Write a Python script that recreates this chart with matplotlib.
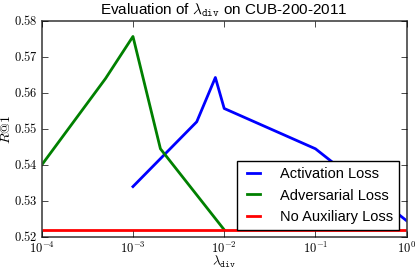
import math
import matplotlib
matplotlib.use('Agg')
import matplotlib.pyplot as plt
from matplotlib.ticker import FuncFormatter, FixedLocator

# data
act_x = [1e-3, 5e-3, 8e-3, 1e-2, 1e-1, 1e0]
act_y = [0.534, 0.552, 0.5643, 0.5557, 0.5445, 0.5245]
adv_x = [1e-4, 5e-4, 1e-3, 2e-3, 1e-2]
adv_y = [0.540, 0.564, 0.5757, 0.5445, 0.522]
base_x = [1e-4, 1e0]
base_y = [0.522, 0.522]
x_ticks = [1e-4, 1e-3, 1e-2, 1e-1, 1e0]
y_ticks = [0.52, 0.53, 0.54, 0.55, 0.56, 0.57, 0.58]

plt.style.use('classic')
plt.rcParams['mathtext.fontset'] = 'cm'
plt.rcParams['mathtext.default'] = 'rm'
plt.rcParams['font.family'] = ['Liberation Sans', 'DejaVu Sans']

fig = plt.figure(figsize=(4.15, 2.69), dpi=100)
ax = fig.add_axes([0.1005, 0.119, 0.8795, 0.803])

ax.plot(act_x, act_y, 'b-', lw=2, label='Activation Loss')
ax.plot(adv_x, adv_y, 'g-', lw=2, label='Adversarial Loss')
ax.plot(base_x, base_y, 'r-', lw=2, label='No Auxiliary Loss')

ax.set_xscale('log')
ax.set_xlim(1e-4, 1e0)
ax.set_ylim(0.52, 0.58)
ax.minorticks_off()
ax.xaxis.set_major_locator(FixedLocator(x_ticks))
ax.xaxis.set_major_formatter(FuncFormatter(lambda v, p: r'$10^{%d}$' % round(math.log10(v))))
ax.yaxis.set_major_locator(FixedLocator(y_ticks))
ax.yaxis.set_major_formatter(FuncFormatter(lambda v, p: r'$%.2f$' % v))
ax.tick_params(labelsize=9, pad=3)
for s in ax.spines.values():
    s.set_color('#444444')
    s.set_linewidth(1.2)

ax.set_xlabel(r'$\lambda_{\mathtt{div}}$', fontsize=9.5)
ax.xaxis.set_label_coords(0.5, -0.077)
ax.set_ylabel(r'$\mathit{R}@1$', fontsize=10)
ax.yaxis.set_label_coords(-0.078, 0.5)
ax.set_title(r'Evaluation of $\lambda_{\mathtt{div}}$ on CUB-200-2011', fontsize=11, y=1.0)

leg = ax.legend(loc='lower right', fontsize=10.5, borderaxespad=0.5,
                handlelength=1.5, handletextpad=1.1, fancybox=False)
leg.get_frame().set_edgecolor('black')

fig.savefig('out.png', dpi=100)
